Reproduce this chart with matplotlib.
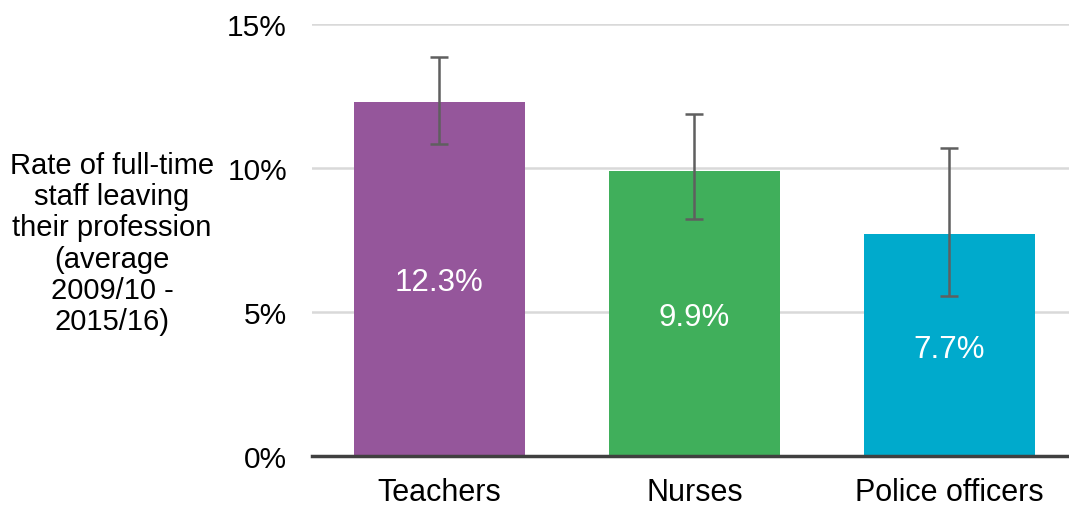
import matplotlib
matplotlib.use("Agg")
import matplotlib.pyplot as plt
import numpy as np

categories = ["Teachers", "Nurses", "Police officers"]
values = [12.3, 9.9, 7.7]
err_low = [10.85, 8.23, 5.56]
err_high = [13.85, 11.88, 10.69]
labels = ["12.3%", "9.9%", "7.7%"]
colors = ["#95569B", "#40AF5B", "#00AACC"]
yticks = [0, 5, 10, 15]
ytick_labels = ["0%", "5%", "10%", "15%"]

plt.rcParams['font.family'] = ['Liberation Sans', 'DejaVu Sans']

fig = plt.figure(figsize=(10.69, 5.06), dpi=100)
ax = fig.add_axes([312/1069, 1-457/506, 1-312/1069, (457-25)/506])

x = np.arange(len(categories))
vals = np.array(values)
yerr = np.array([vals - np.array(err_low), np.array(err_high) - vals])
ax.bar(x, vals, width=0.67, color=colors, zorder=2)
ax.errorbar(x, vals, yerr=yerr, fmt='none', ecolor='#5f5f5f', elinewidth=1.8,
            capsize=6.5, capthick=1.8, zorder=3)
for xi, v, lab in zip(x, vals, labels):
    ax.text(xi, v/2, lab, ha='center', va='center_baseline', color='white',
            fontsize=22.5, zorder=4)

ax.set_xlim(-0.5, 2.47)
ax.set_ylim(0, 15)
ax.set_yticks(yticks)
ax.set_yticklabels(ytick_labels, fontsize=21.5)
ax.set_xticks(x)
ax.set_xticklabels(categories, fontsize=22)
ax.tick_params(axis='y', length=0, pad=18)
ax.tick_params(axis='x', length=0, pad=15)
ax.grid(axis='y', color='#d9d9d9', linewidth=1.8, zorder=0)
ax.set_axisbelow(True)
for s in ['top', 'right', 'left']:
    ax.spines[s].set_visible(False)
ax.spines['bottom'].set_color('#404040')
ax.spines['bottom'].set_linewidth(2.5)
ax.spines['bottom'].set_zorder(5)

fig.text(112/1069, 1-244/506,
         "Rate of full-time\nstaff leaving\ntheir profession\n(average\n2009/10 -\n2015/16)",
         ha='center', va='center', multialignment='center', fontsize=21, linespacing=1.14)

fig.savefig("out.png", dpi=100)
